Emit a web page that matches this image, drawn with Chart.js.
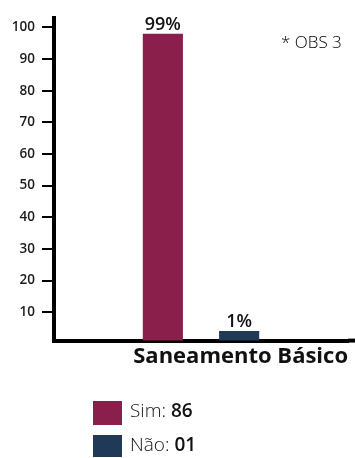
<!DOCTYPE html>
<html>
<head>
<meta charset="utf-8">
<script src="https://cdn.jsdelivr.net/npm/chart.js@4/dist/chart.umd.min.js"></script>
<style>
  html, body { margin: 0; padding: 0; background: #fff; }
  #wrap { position: relative; width: 355px; height: 458px; font-family: 'Open Sans', sans-serif; color: #111; }
  #chart { position: absolute; left: 0; top: 0; }
  #obs { position: absolute; left: 281px; top: 30px; font-size: 17px; font-weight: 300; color: #000; }
  .leg-box { position: absolute; left: 93px; width: 29px; }
  .leg-text { position: absolute; left: 130px; font-size: 19px; font-weight: 300; color: #111; line-height: 24px; }
  .leg-text b { font-weight: 600; color: #111; }
</style>
</head>
<body>
<div id="wrap">
  <canvas id="chart" width="355" height="458"></canvas>
  <div id="obs">* OBS 3</div>
  <div id="legend"></div>
</div>
<script>
// --- données ---
const categories = ['Saneamento Básico'];
const seriesNames = ['Sim', 'Não'];
const barValues = [98, 4];
const barLabels = ['99%', '1%'];
const legendCounts = ['86', '01'];
const yTicks = [10, 20, 30, 40, 50, 60, 70, 80, 90, 100];
const seriesColors = ['#891f4a', '#1f3957'];

// légende HTML (texte mixte normal / gras)
const legend = document.getElementById('legend');
const legendRows = [{ box: 401, h: 24, text: 398 }, { box: 435, h: 22, text: 432 }];
seriesNames.forEach((name, i) => {
    const box = document.createElement('div');
    box.className = 'leg-box';
    box.style.top = legendRows[i].box + 'px';
    box.style.height = legendRows[i].h + 'px';
    box.style.background = seriesColors[i];
    legend.appendChild(box);
    const txt = document.createElement('div');
    txt.className = 'leg-text';
    txt.style.top = legendRows[i].text + 'px';
    txt.innerHTML = name + ': <b>' + legendCounts[i] + '</b>';
    legend.appendChild(txt);
});

// étiquettes au-dessus des barres + prolongement de l'axe X
const barLabelPlugin = {
    id: 'barLabels',
    afterDatasetsDraw(chart) {
        const ctx = chart.ctx;
        ctx.save();
        ctx.font = '600 18px "Open Sans"';
        ctx.fillStyle = '#111';
        ctx.textAlign = 'center';
        ctx.textBaseline = 'alphabetic';
        chart.data.datasets.forEach((ds, i) => {
            const bar = chart.getDatasetMeta(i).data[0];
            ctx.fillText(barLabels[i], bar.x, bar.y - 4);
        });
        ctx.restore();
    },
    afterDraw(chart) {
        const { ctx, chartArea, width } = chart;
        ctx.save();
        ctx.fillStyle = '#000';
        ctx.fillRect(chartArea.right, chartArea.bottom - 2, width - chartArea.right, 4);
        ctx.restore();
    }
};

new Chart(document.getElementById('chart'), {
    type: 'bar',
    data: {
        labels: categories,
        datasets: seriesNames.map((name, i) => ({
            label: name,
            data: [barValues[i]],
            backgroundColor: seriesColors[i],
            categoryPercentage: 0.519,
            barPercentage: 0.526
        }))
    },
    options: {
        responsive: false,
        animation: false,
        layout: { padding: { left: 0, right: 7, top: 18, bottom: 88 } },
        plugins: {
            legend: { display: false },
            tooltip: { enabled: false }
        },
        scales: {
            x: {
                ticks: { display: false },
                grid: { display: false, drawTicks: false },
                border: { color: '#000', width: 4 },
                title: {
                    display: true,
                    text: categories[0],
                    align: 'end',
                    color: '#111',
                    font: { family: 'Open Sans', size: 22, weight: 'bold' },
                    padding: { top: 3, bottom: 0 }
                }
            },
            y: {
                min: 1,
                max: 103,
                afterFit: (scale) => { scale.width = 54; },
                afterBuildTicks: (scale) => { scale.ticks = yTicks.map(v => ({ value: v })); },
                ticks: {
                    padding: 7,
                    color: '#1b1b1b',
                    font: { family: 'Open Sans', size: 13.5, weight: '600' }
                },
                grid: {
                    drawOnChartArea: false,
                    tickLength: 12,
                    tickWidth: 2,
                    tickColor: '#000',
                    lineWidth: 2,
                    color: '#000'
                },
                border: { color: '#000', width: 4 }
            }
        }
    },
    plugins: [barLabelPlugin]
});
</script>
</body>
</html>
